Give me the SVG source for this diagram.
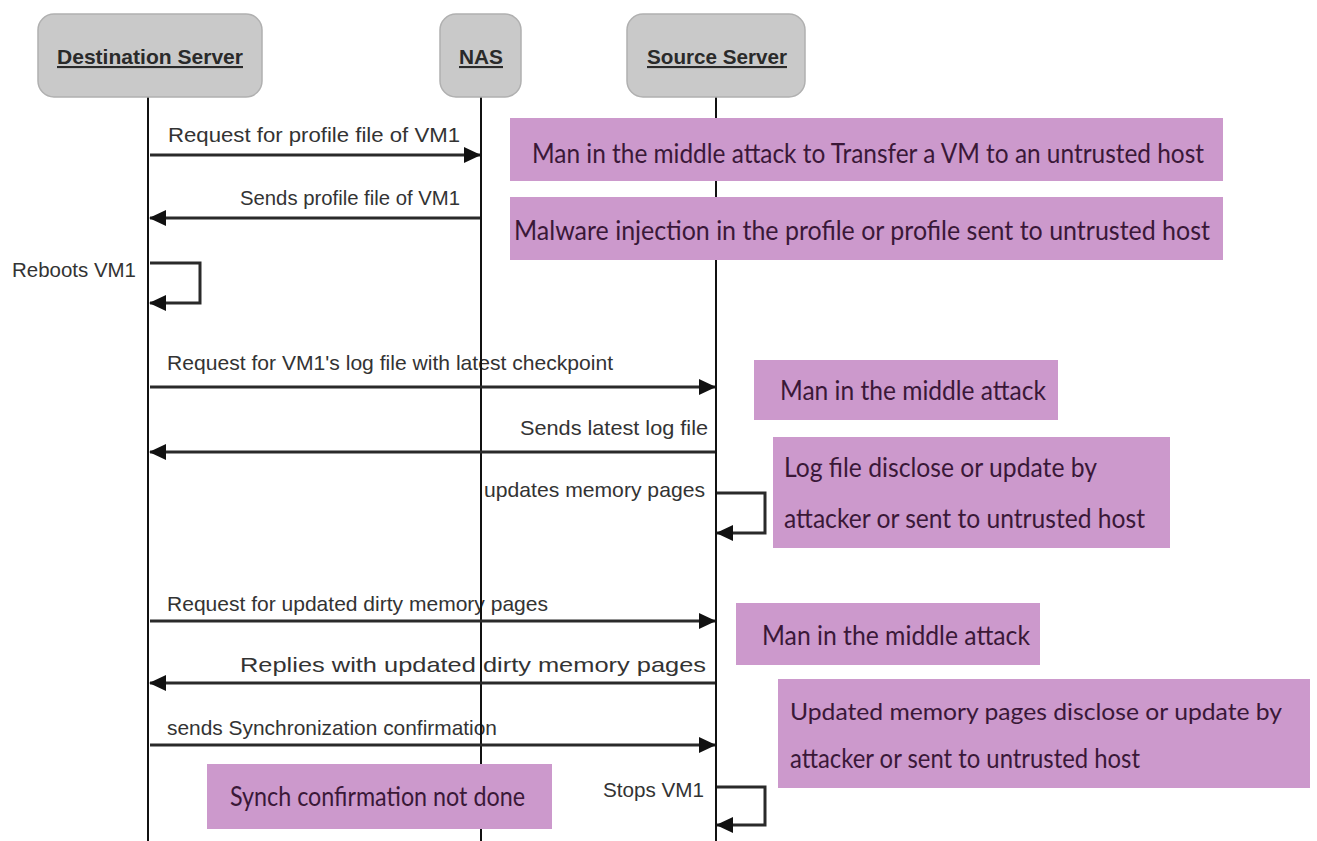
<svg xmlns="http://www.w3.org/2000/svg" width="1317" height="841" viewBox="0 0 1317 841">
<style>
.hdr{fill:#c9c9c9;stroke:#b0b0b0;stroke-width:1.5}
.htxt{font-family:"Liberation Sans",Arial,sans-serif;font-weight:bold;font-size:21px;fill:#2a2a2a;text-decoration:underline;text-anchor:middle}
.life{stroke:#111;stroke-width:2;fill:none}
.msg{stroke:#2a2a2a;stroke-width:3;fill:none}
.lbl{font-family:"Liberation Sans",Arial,sans-serif;font-size:21px;fill:#333}
.note{fill:#cc99cc}
.ntxt{font-family:Lato,"Open Sans",sans-serif;font-size:27px;fill:#3a1838}
</style>
<defs>
<marker id="ah" markerWidth="18" markerHeight="18" refX="16" refY="9" orient="auto" markerUnits="userSpaceOnUse">
<path d="M0,1 L17,9 L0,17 Z" fill="#111"/>
</marker>
</defs>
<rect width="1317" height="841" fill="#fff"/>

<g id="lifelines">
<line class="life" x1="148" y1="97" x2="148" y2="841"/>
<line class="life" x1="481" y1="97" x2="481" y2="841"/>
<line class="life" x1="716" y1="97" x2="716" y2="841"/>
</g>

<g id="destination">
<rect class="hdr" x="38" y="14" width="224" height="83" rx="16"/>
<text class="htxt" x="150" y="64" textLength="186" lengthAdjust="spacingAndGlyphs">Destination Server</text>
</g>
<g id="nas">
<rect class="hdr" x="440" y="14" width="81" height="83" rx="16"/>
<text class="htxt" x="481" y="64" textLength="44" lengthAdjust="spacingAndGlyphs">NAS</text>
</g>
<g id="source">
<rect class="hdr" x="627" y="14" width="178" height="83" rx="16"/>
<text class="htxt" x="717" y="64" textLength="140" lengthAdjust="spacingAndGlyphs">Source Server</text>
</g>

<g id="labels">
<text class="lbl" x="168" y="142" textLength="292" lengthAdjust="spacingAndGlyphs">Request for profile file of VM1</text>
<text class="lbl" x="240" y="205" textLength="220" lengthAdjust="spacingAndGlyphs">Sends profile file of VM1</text>
<text class="lbl" x="12" y="277" textLength="124" lengthAdjust="spacingAndGlyphs">Reboots VM1</text>
<text class="lbl" x="167" y="370" textLength="446" lengthAdjust="spacingAndGlyphs">Request for VM1's log file with latest checkpoint</text>
<text class="lbl" x="520" y="435" textLength="188" lengthAdjust="spacingAndGlyphs">Sends latest log file</text>
<text class="lbl" x="484" y="497" textLength="221" lengthAdjust="spacingAndGlyphs">updates memory pages</text>
<text class="lbl" x="167" y="611" textLength="381" lengthAdjust="spacingAndGlyphs">Request for updated dirty memory pages</text>
<text class="lbl" x="240" y="672" textLength="466" lengthAdjust="spacingAndGlyphs">Replies with updated dirty memory pages</text>
<text class="lbl" x="167" y="735" textLength="330" lengthAdjust="spacingAndGlyphs">sends Synchronization confirmation</text>
<text class="lbl" x="603" y="797" textLength="101" lengthAdjust="spacingAndGlyphs">Stops VM1</text>
</g>

<g id="lifelines-over">
<line class="life" x1="481" y1="330" x2="481" y2="760"/>
</g>

<g id="connectors">
<line class="msg" x1="150" y1="155" x2="480" y2="155" marker-end="url(#ah)"/>
<line class="msg" x1="480" y1="218" x2="150" y2="218" marker-end="url(#ah)"/>
<polyline class="msg" points="150,263 200,263 200,303 150,303" marker-end="url(#ah)"/>
<line class="msg" x1="150" y1="387" x2="715" y2="387" marker-end="url(#ah)"/>
<line class="msg" x1="715" y1="452" x2="150" y2="452" marker-end="url(#ah)"/>
<polyline class="msg" points="717,493 765,493 765,533 717,533" marker-end="url(#ah)"/>
<line class="msg" x1="150" y1="621" x2="715" y2="621" marker-end="url(#ah)"/>
<line class="msg" x1="715" y1="683" x2="150" y2="683" marker-end="url(#ah)"/>
<line class="msg" x1="150" y1="745" x2="715" y2="745" marker-end="url(#ah)"/>
<polyline class="msg" points="717,787 765,787 765,825 717,825" marker-end="url(#ah)"/>
</g>

<g id="note1">
<rect class="note" x="510" y="118" width="713" height="63"/>
<text class="ntxt" x="532" y="163" textLength="672" lengthAdjust="spacingAndGlyphs">Man in the middle attack to Transfer a VM to an untrusted host</text>
</g>
<g id="note2">
<rect class="note" x="510" y="197" width="713" height="63"/>
<text class="ntxt" x="514" y="240" textLength="696" lengthAdjust="spacingAndGlyphs">Malware injection in the profile or profile sent to untrusted host</text>
</g>
<g id="note3">
<rect class="note" x="754" y="360" width="304" height="60"/>
<text class="ntxt" x="780" y="400" textLength="266" lengthAdjust="spacingAndGlyphs">Man in the middle attack</text>
</g>
<g id="note4">
<rect class="note" x="773" y="437" width="397" height="111"/>
<text class="ntxt" x="784" y="477" textLength="313" lengthAdjust="spacingAndGlyphs">Log file disclose or update by</text>
<text class="ntxt" x="784" y="528" textLength="361" lengthAdjust="spacingAndGlyphs">attacker or sent to untrusted host</text>
</g>
<g id="note5">
<rect class="note" x="736" y="603" width="304" height="62"/>
<text class="ntxt" x="762" y="645" textLength="268" lengthAdjust="spacingAndGlyphs">Man in the middle attack</text>
</g>
<g id="note6">
<rect class="note" x="778" y="679" width="532" height="109"/>
<text class="ntxt" x="790" y="720" style="font-size:24px" textLength="492" lengthAdjust="spacingAndGlyphs">Updated memory pages disclose or update by</text>
<text class="ntxt" x="790" y="768" textLength="350" lengthAdjust="spacingAndGlyphs">attacker or sent to untrusted host</text>
</g>
<g id="note7">
<rect class="note" x="207" y="764" width="345" height="65"/>
<text class="ntxt" x="230" y="806" textLength="295" lengthAdjust="spacingAndGlyphs">Synch confirmation not done</text>
</g>
</svg>
